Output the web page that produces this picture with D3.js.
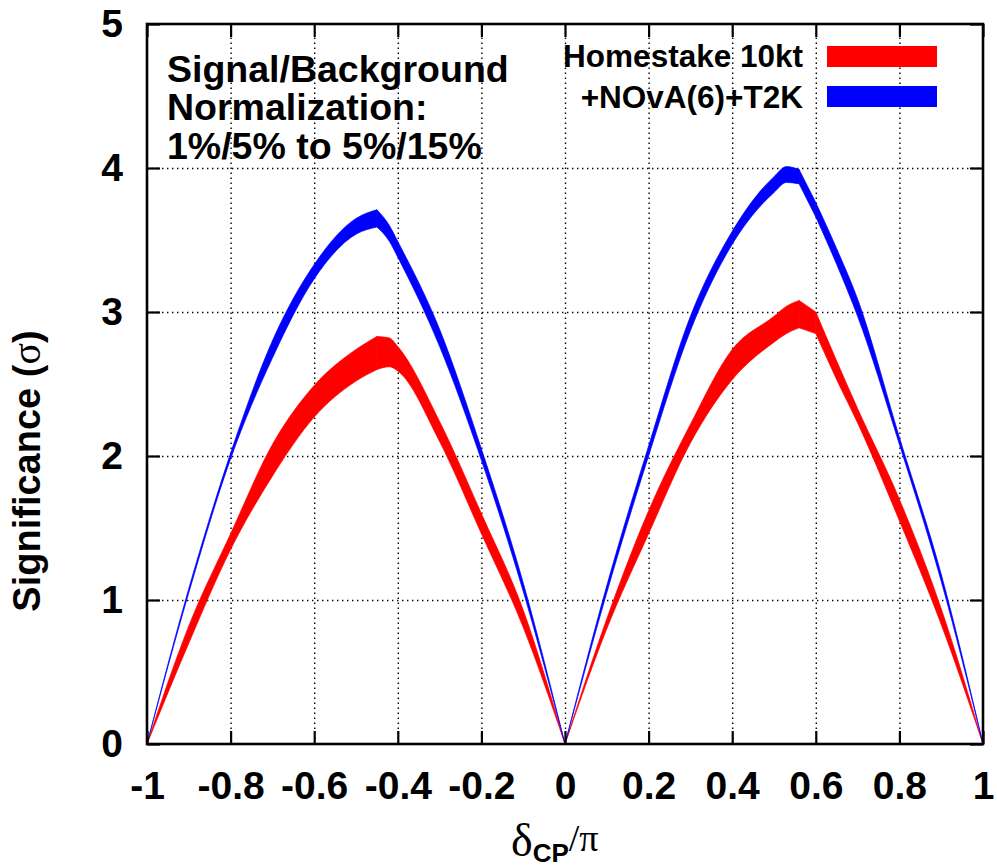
<html>

<head>
    <meta charset="utf-8">
    <style>
        body {
            margin: 0;
            background: white;
        }

        svg {
            display: block;
        }

        .tickLabels text {
            font-family: "Liberation Sans", Arial, Helvetica, sans-serif;
            font-weight: bold;
            font-size: 39px;
            fill: black;
        }
    </style>
    <script src="https://d3js.org/d3.v7.min.js"></script>
</head>

<body>
    <svg id="chart"></svg>
</body>

<script>
    // DATA
    let deltaCP = [-1, -0.9, -0.8, -0.7, -0.6, -0.5, -0.45, -0.42, -0.4, -0.3, -0.2, -0.1, 0,
        0.1, 0.2, 0.3, 0.4, 0.5, 0.53, 0.56, 0.6, 0.65, 0.7, 0.8, 0.9, 1]
    // points where the curves have a corner (peaks and zeros)
    let cornerPoints = [-0.45, 0, 0.56, 0.6]

    // Homestake 10kt band (red)
    let homestakeHigh = [0, 0.82, 1.46, 2.08, 2.49, 2.74, 2.83, 2.82, 2.76, 2.24, 1.60, 0.93, 0,
        0.87, 1.62, 2.22, 2.74, 2.97, 3.04, 3.08, 3.00, 2.66, 2.33, 1.70, 0.94, 0]
    let homestakeLow = [0, 0.70, 1.35, 1.86, 2.27, 2.52, 2.60, 2.62, 2.59, 2.10, 1.46, 0.81, 0,
        0.80, 1.46, 2.09, 2.53, 2.79, 2.85, 2.89, 2.85, 2.53, 2.23, 1.55, 0.83, 0]

    // +NOvA(6)+T2K band (blue)
    let combinedHigh = [0, 1.08, 2.02, 2.80, 3.33, 3.65, 3.71, 3.60, 3.49, 2.88, 2.05, 1.12, 0,
        1.10, 2.07, 2.97, 3.56, 3.94, 4.01, 3.99, 3.76, 3.44, 3.09, 2.13, 1.18, 0]
    let combinedLow = [0, 1.05, 1.98, 2.68, 3.23, 3.54, 3.59, 3.49, 3.38, 2.76, 1.97, 1.06, 0,
        1.05, 2.00, 2.87, 3.47, 3.83, 3.90, 3.89, 3.66, 3.33, 2.97, 2.08, 1.13, 0]

    let xTicks = [-1, -0.8, -0.6, -0.4, -0.2, 0, 0.2, 0.4, 0.6, 0.8, 1]
    let yTicks = [0, 1, 2, 3, 4, 5]
    let legendLabels = ["Homestake 10kt", "+NOvA(6)+T2K"]
    let titleLines = ["Signal/Background", "Normalization:", "1%/5% to 5%/15%"]

    drawChart()

    function getConfig() {
        let width = 997
        let height = 867
        let margin = { top: 24, left: 147, right: 14, bottom: 123 }
        let bodyWidth = width - margin.left - margin.right
        let bodyHeight = height - margin.top - margin.bottom
        let container = d3.select("#chart")
            .attr("width", width)
            .attr("height", height)
        return { width, height, margin, bodyWidth, bodyHeight, container }
    }

    // cut the rows into pieces at the corner points so the smoothing keeps the corners sharp
    function splitAtCorners(rows) {
        let pieces = []
        let current = []
        rows.forEach(r => {
            current.push(r)
            if (cornerPoints.includes(r.x)) {
                pieces.push(current)
                current = [r]
            }
        })
        pieces.push(current)
        return pieces
    }

    function drawChart() {
        let config = getConfig()
        let { margin, bodyWidth, bodyHeight, container } = config

        let xScale = d3.scaleLinear().domain([-1, 1]).range([0, bodyWidth])
        let yScale = d3.scaleLinear().domain([0, 5]).range([bodyHeight, 0])

        let body = container.append("g")
            .attr("transform", `translate(${margin.left},${margin.top})`)

        // dotted grid
        let xGrid = body.append("g")
            .attr("transform", `translate(0,${bodyHeight})`)
            .call(d3.axisBottom(xScale).tickValues(xTicks.slice(1, -1)).tickSize(-bodyHeight).tickFormat(""))
        let yGrid = body.append("g")
            .call(d3.axisLeft(yScale).tickValues(yTicks.slice(1, -1)).tickSize(-bodyWidth).tickFormat(""))
        for (let g of [xGrid, yGrid]) {
            g.select(".domain").remove()
            g.selectAll("line")
                .attr("stroke", "black")
                .attr("stroke-width", 1.4)
                .attr("stroke-dasharray", "1.4,3.6")
        }

        // bands
        let bands = [
            { high: homestakeHigh, low: homestakeLow, color: "#ff0000" },
            { high: combinedHigh, low: combinedLow, color: "#0000ff" }
        ]
        let area = d3.area()
            .x(d => xScale(d.x))
            .y0(d => yScale(d.lo))
            .y1(d => yScale(d.hi))
            .curve(d3.curveMonotoneX)
        bands.forEach(band => {
            let rows = deltaCP.map((d, i) => ({ x: d, hi: band.high[i], lo: band.low[i] }))
            body.append("g").selectAll("path")
                .data(splitAtCorners(rows))
                .enter().append("path")
                .attr("d", area)
                .attr("fill", band.color)
                .attr("stroke", band.color)
                .attr("stroke-width", 0.7)
                .attr("stroke-linejoin", "round")
        })

        // inward ticks on all four sides
        let tickAxes = [
            body.append("g").attr("transform", `translate(0,${bodyHeight})`)
                .call(d3.axisBottom(xScale).tickValues(xTicks).tickSize(-13).tickFormat("")),
            body.append("g")
                .call(d3.axisTop(xScale).tickValues(xTicks).tickSize(-13).tickFormat("")),
            body.append("g")
                .call(d3.axisLeft(yScale).tickValues(yTicks).tickSize(-13).tickFormat("")),
            body.append("g").attr("transform", `translate(${bodyWidth},0)`)
                .call(d3.axisRight(yScale).tickValues(yTicks).tickSize(-13).tickFormat(""))
        ]
        tickAxes.forEach(g => {
            g.select(".domain").remove()
            g.selectAll("line").attr("stroke", "black").attr("stroke-width", 2.2)
        })

        // frame
        body.append("rect")
            .attr("width", bodyWidth)
            .attr("height", bodyHeight)
            .attr("fill", "none")
            .attr("stroke", "black")
            .attr("stroke-width", 2.6)

        // tick labels
        let xLabels = body.append("g")
            .attr("class", "tickLabels")
            .attr("transform", `translate(0,${bodyHeight})`)
            .call(d3.axisBottom(xScale).tickValues(xTicks).tickSize(0).tickPadding(27).tickFormat(d => String(d)))
        let yLabels = body.append("g")
            .attr("class", "tickLabels")
            .call(d3.axisLeft(yScale).tickValues(yTicks).tickSize(0).tickPadding(24).tickFormat(d => String(d)))
        xLabels.select(".domain").remove()
        yLabels.select(".domain").remove()
        xLabels.attr("font-family", null).attr("font-size", null)
        yLabels.attr("font-family", null).attr("font-size", null)

        // axis titles
        let sans = "'Liberation Sans', Arial, Helvetica, sans-serif"
        let serif = "'Liberation Serif', 'Times New Roman', serif"

        let yTitle = container.append("text")
            .attr("transform", "translate(40,471) rotate(-90)")
            .attr("text-anchor", "middle")
            .attr("font-family", sans)
            .attr("font-weight", "bold")
            .attr("font-size", 38)
        yTitle.append("tspan").text("Significance (")
        yTitle.append("tspan").attr("font-family", serif).attr("font-weight", "normal").attr("font-size", 40).text("σ")
        yTitle.append("tspan").text(")")

        let xTitle = container.append("text")
            .attr("x", 511)
            .attr("y", 856)
        xTitle.append("tspan").attr("font-family", serif).attr("font-size", 46).text("δ")
        xTitle.append("tspan").attr("font-family", sans).attr("font-weight", "bold").attr("font-size", 26)
            .attr("dy", 6).text("CP")
        xTitle.append("tspan").attr("font-family", serif).attr("font-size", 38)
            .attr("dy", -11).text("/π")

        // title block
        container.append("g").selectAll("text")
            .data(titleLines)
            .enter().append("text")
            .attr("x", 167)
            .attr("y", (d, i) => 82 + i * 38.3)
            .attr("font-family", sans)
            .attr("font-weight", "bold")
            .attr("font-size", 37.5)
            .text(d => d)

        // legend
        let legend = container.append("g")
        legend.selectAll("text")
            .data(legendLabels)
            .enter().append("text")
            .attr("x", 803)
            .attr("y", (d, i) => 67 + i * 41)
            .attr("text-anchor", "end")
            .attr("font-family", sans)
            .attr("font-weight", "bold")
            .attr("font-size", 31.5)
            .text(d => d)
        legend.selectAll("rect")
            .data(bands)
            .enter().append("rect")
            .attr("x", 827)
            .attr("y", (d, i) => 46 + i * 40)
            .attr("width", 110)
            .attr("height", 21)
            .attr("fill", d => d.color)
    }
</script>

</html>
